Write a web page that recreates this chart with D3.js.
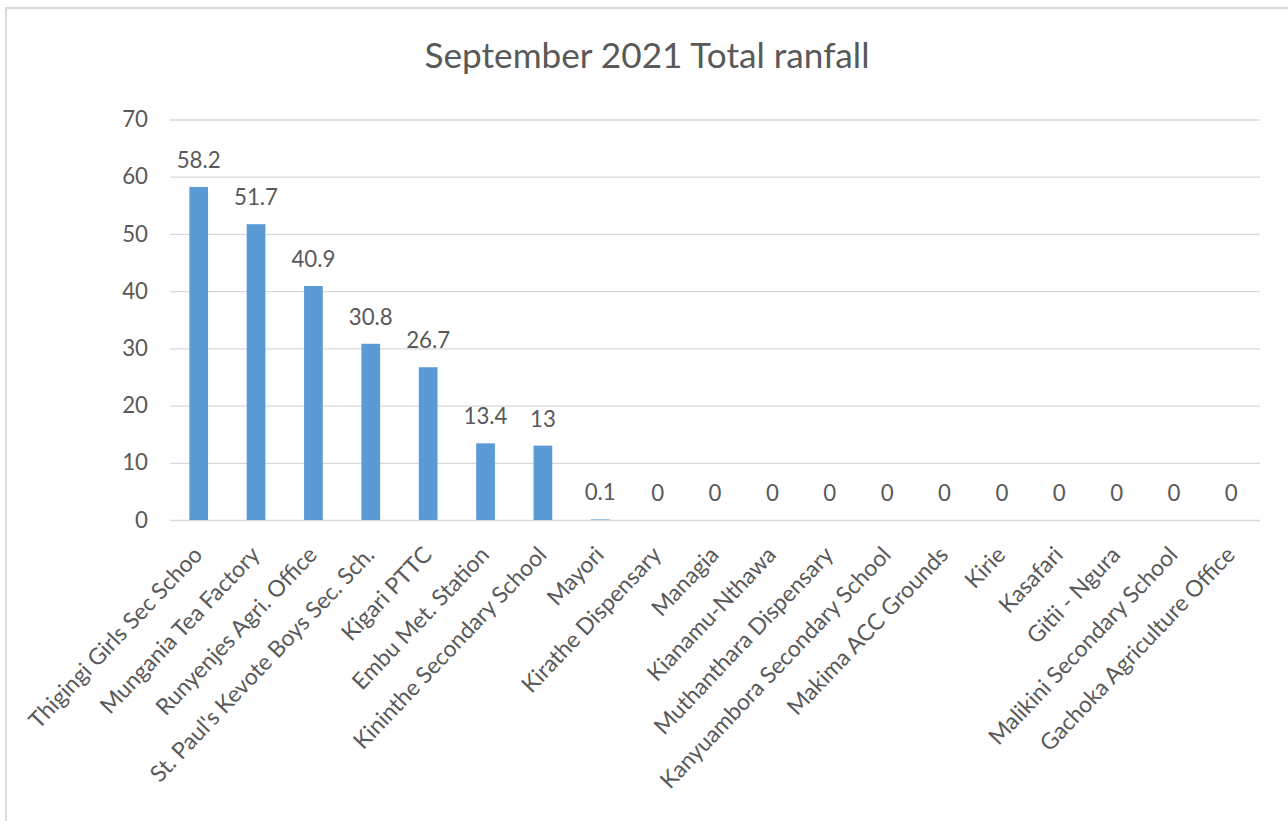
<!DOCTYPE html>
<html>
<head>
<meta charset="utf-8">
<script src="https://cdn.jsdelivr.net/npm/d3@7"></script>
<style>
  html, body { margin: 0; padding: 0; background: #ffffff; }
  svg { display: block; }
</style>
</head>
<body>
<svg id="chart" width="1288" height="821"></svg>
<script>
const title = "September 2021 Total ranfall";
const categories = [
  "Thigingi Girls Sec Schoo", "Mungania Tea Factory", "Runyenjes Agri. Office",
  "St. Paul's Kevote Boys Sec. Sch.", "Kigari PTTC", "Embu Met. Station",
  "Kininthe Secondary School", "Mayori", "Kirathe Dispensary", "Managia",
  "Kianamu-Nthawa", "Muthanthara Dispensary", "Kanyuambora Secondary School",
  "Makima ACC Grounds", "Kirie", "Kasafari", "Gitii - Ngura",
  "Malikini Secondary School", "Gachoka Agriculture Office"
];
const values = [58.2, 51.7, 40.9, 30.8, 26.7, 13.4, 13, 0.1, 0, 0, 0, 0, 0, 0, 0, 0, 0, 0, 0];
const yTicks = [0, 10, 20, 30, 40, 50, 60, 70];

const FONT = "Lato, 'Open Sans', 'Noto Sans', sans-serif";
const TEXT_COLOR = "#595959";
const BAR_COLOR = "#5b9bd5";
const GRID_COLOR = "#d9d9d9";

const svg = d3.select("#chart");

function fitSize(sample, target) {
  const t = svg.append("text").attr("font-family", FONT).attr("font-size", 100).text(sample);
  const w = t.node().getComputedTextLength();
  t.remove();
  return 100 * target / w;
}
const titleSize = fitSize(title, 445);
const numSize = fitSize("58.2", 44);
const catSize = fitSize("Kianamu-Nthawa", 175);

const plotLeft = 170, plotRight = 1260, plotTop = 119.5, plotBottom = 520;

// outer frame (cut off on right and bottom like the reference)
svg.append("rect")
  .attr("x", 6).attr("y", 8).attr("width", 1300).attr("height", 830)
  .attr("fill", "none").attr("stroke", "#d9d9d9").attr("stroke-width", 2);

const x = d3.scaleBand().domain(categories).range([plotLeft, plotRight]).paddingInner(0.674).paddingOuter(0.337);
const y = d3.scaleLinear().domain([0, 70]).range([plotBottom, plotTop]);

// gridlines + y labels via axis
const yAxis = d3.axisLeft(y).tickValues(yTicks).tickSize(-(plotRight - plotLeft)).tickPadding(22).tickFormat(d3.format("d"));
const gy = svg.append("g").attr("transform", `translate(${plotLeft},0)`).call(yAxis);
gy.select(".domain").remove();
gy.selectAll(".tick line").attr("stroke", GRID_COLOR).attr("stroke-width", 1.3);
gy.selectAll(".tick text").attr("fill", TEXT_COLOR).attr("font-family", FONT).attr("font-size", numSize);

// bars
svg.append("g").selectAll("rect").data(values).join("rect")
  .attr("x", (d, i) => x(categories[i]))
  .attr("width", x.bandwidth())
  .attr("y", d => y(d))
  .attr("height", d => y(0) - y(d))
  .attr("fill", BAR_COLOR);

// data labels
svg.append("g").selectAll("text").data(values).join("text")
  .attr("x", (d, i) => x(categories[i]) + x.bandwidth() / 2)
  .attr("y", d => y(d) - 19)
  .attr("text-anchor", "middle")
  .attr("font-family", FONT).attr("font-size", numSize).attr("fill", TEXT_COLOR)
  .text(d => d);

// category labels
const xAxis = d3.axisBottom(x).tickSize(0).tickPadding(0);
const gx = svg.append("g").attr("transform", `translate(0,${plotBottom})`).call(xAxis);
gx.select(".domain").remove();
gx.selectAll(".tick text")
  .attr("font-family", FONT).attr("font-size", catSize).attr("fill", TEXT_COLOR)
  .attr("text-anchor", "end")
  .attr("dy", 0).attr("y", 0)
  .attr("transform", "translate(5,36) rotate(-46.5)");

// title
svg.append("text")
  .attr("x", 647).attr("y", 68)
  .attr("text-anchor", "middle")
  .attr("font-family", FONT).attr("font-size", titleSize).attr("fill", TEXT_COLOR)
  .text(title);
</script>
</body>
</html>
